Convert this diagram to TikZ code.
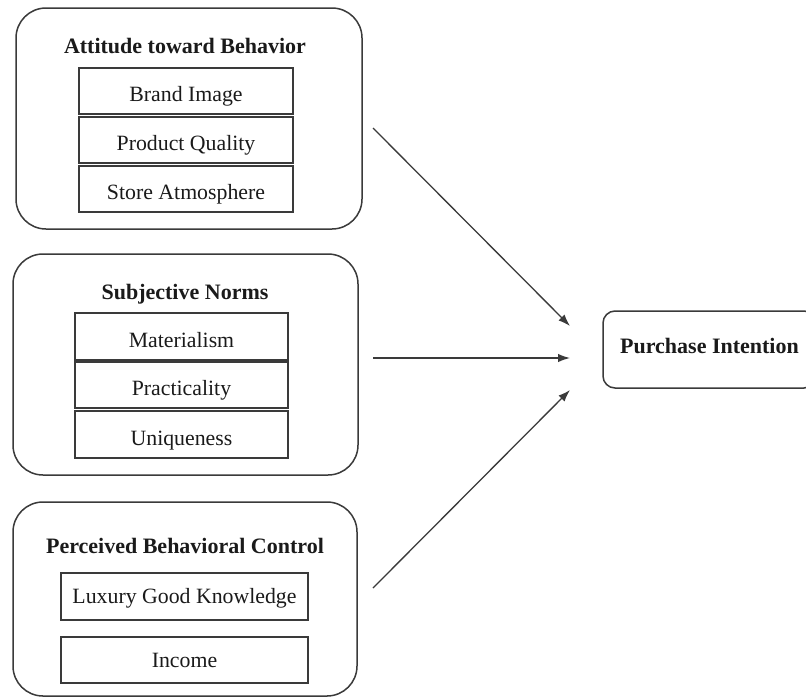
\documentclass[tikz,border=0pt]{standalone}
\usepackage{fontspec}
\setmainfont{Liberation Serif}
\usetikzlibrary{arrows.meta}
\definecolor{ink}{HTML}{1A1A1A}
\definecolor{edge}{HTML}{3A3A3A}
\tikzset{
  group/.style={draw=edge, line width=1.5pt, rounded corners=30pt, anchor=center, inner sep=0pt},
  item/.style={draw=edge, line width=1.5pt, anchor=center, inner sep=0pt, text=ink,
    text height=21pt, text depth=0pt, font=\fontsize{21.8}{25}\selectfont},
  title/.style={anchor=base, inner sep=0pt, text=ink, font=\fontsize{22}{25}\selectfont\bfseries},
  outcome/.style={draw=edge, line width=1.5pt, rounded corners=12pt, anchor=center, inner sep=0pt},
  link/.style={draw=edge, line width=1.3pt, -{Latex[length=12pt,width=8.5pt]}}
}
\begin{document}
\begin{tikzpicture}[x=1pt,y=-1pt]
\useasboundingbox (0,0) rectangle (806,697);
\clip (0,0) rectangle (806,697);
\fill[white] (0,0) rectangle (806,697);

% Attitude toward Behavior
\node[group, minimum width=346pt, minimum height=221pt] (att) at (189,118.5) {};
\node[title] (attT) at (185,53) {Attitude toward Behavior};
\node[item, minimum width=214pt, minimum height=46pt] (brand) at (186,91) {Brand Image};
\node[item, minimum width=214pt, minimum height=46pt] (quality) at (186,140) {Product Quality};
\node[item, minimum width=214pt, minimum height=46pt] (store) at (186,189) {Store Atmosphere};

% Subjective Norms
\node[group, minimum width=345pt, minimum height=221pt] (norm) at (185.5,364.5) {};
\node[title] (normT) at (185,299) {Subjective Norms};
\node[item, minimum width=213pt, minimum height=47pt] (mat) at (181.5,336.5) {Materialism};
\node[item, minimum width=213pt, minimum height=46pt] (prac) at (181.5,385) {Practicality};
\node[item, minimum width=213pt, minimum height=47pt] (uniq) at (181.5,434.5) {Uniqueness};

% Perceived Behavioral Control
\node[group, minimum width=344pt, minimum height=194pt] (pbc) at (185,599) {};
\node[title] (pbcT) at (185,553) {Perceived Behavioral Control};
\node[item, text height=13pt, minimum width=247pt, minimum height=47pt] (know) at (184.5,596.5) {Luxury Good Knowledge};
\node[item, text height=14pt, minimum width=247pt, minimum height=46pt] (income) at (184.5,660) {Income};

% Outcome
\node[outcome, minimum width=213pt, minimum height=77pt] (pi) at (709.5,349.5) {};
\node[title] (piT) at (709.5,353) {Purchase Intention};

% Connectors
\coordinate (s1) at (373,128);
\coordinate (s2) at (373,358);
\coordinate (s3) at (373,588);
\coordinate (e1) at (570,326);
\coordinate (e2) at (570,358);
\coordinate (e3) at (570,390);
\draw[link] (s1) -- (e1);
\draw[link] (s2) -- (e2);
\draw[link] (s3) -- (e3);
\end{tikzpicture}
\end{document}
